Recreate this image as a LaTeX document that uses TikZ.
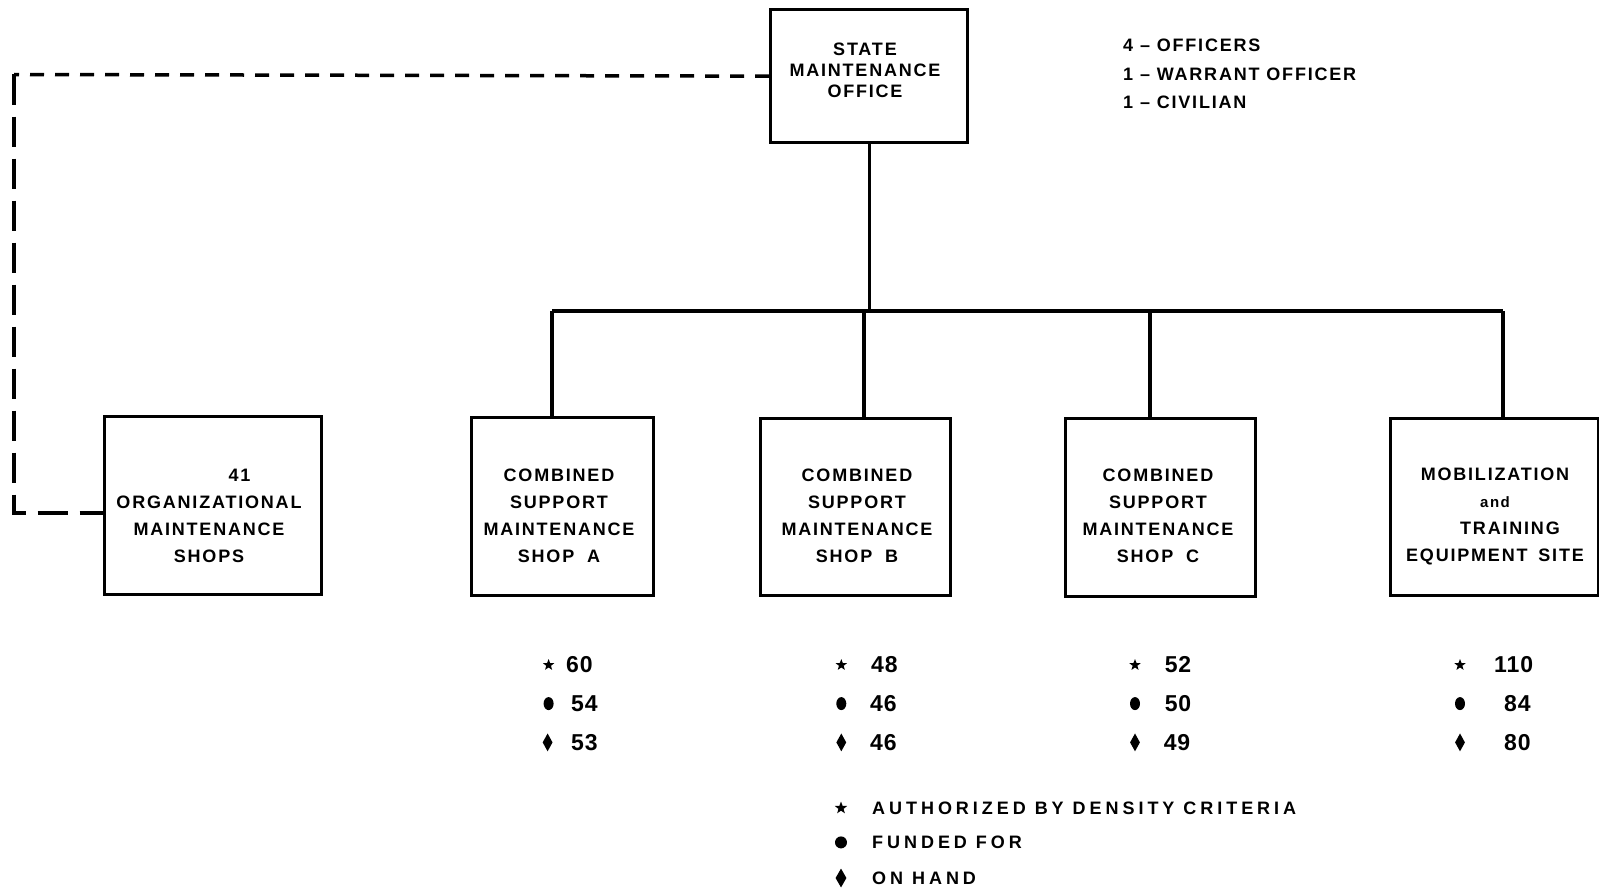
\documentclass[tikz,border=0pt]{standalone}
\usepackage{fontspec}
\usetikzlibrary{shapes.geometric}
\newfontfamily\lblfont[LetterSpace=10]{Liberation Sans}
\newfontfamily\legfont[LetterSpace=22]{Liberation Sans}
\newfontfamily\numfont[LetterSpace=4]{Liberation Sans}
\begin{document}
\begin{tikzpicture}[x=1pt,y=-1pt,
  box/.style={draw, line width=3.3pt, inner sep=0pt, anchor=north west},
  lbl/.style={align=center, inner sep=0pt, font=\lblfont\bfseries\fontsize{18}{27}\selectfont},
  info/.style={align=left, anchor=west, inner sep=0pt, font=\lblfont\bfseries\fontsize{18}{28.5}\selectfont},
  leg/.style={anchor=west, inner sep=0pt, font=\legfont\bfseries\fontsize{18}{22}\selectfont},
  num/.style={anchor=west, inner sep=0pt, font=\numfont\bfseries\fontsize{23}{26}\selectfont},
  conn/.style={line width=3.3pt},
  dashA/.style={line width=3.5pt, dash pattern=on 14pt off 11pt},
  dashB/.style={line width=3.5pt, dash pattern=on 30pt off 12pt},
  sstar/.style={star, star points=5, star point ratio=2.4, fill, inner sep=0pt, minimum size=12pt},
  sdot/.style={ellipse, fill, inner sep=0pt, minimum width=10pt, minimum height=13pt},
  sdia/.style={diamond, fill, inner sep=0pt, minimum width=10pt, minimum height=18pt},
  lstar/.style={sstar, minimum size=13pt},
  ldot/.style={circle, fill, inner sep=0pt, minimum size=12pt},
  ldia/.style={sdia, minimum width=11pt, minimum height=19pt}]
\useasboundingbox[fill=white] (0,0) rectangle (1599,891);

% boxes
\node[box, minimum width=197pt, minimum height=133pt] (S) at (769,8) {};
\node[box, minimum width=217pt, minimum height=178pt] (O) at (103,415) {};
\node[box, minimum width=182pt, minimum height=178pt] (A) at (470,416) {};
\node[box, minimum width=190pt, minimum height=177pt] (B) at (759,417) {};
\node[box, minimum width=190pt, minimum height=178pt] (C) at (1064,417) {};
\node[box, minimum width=208pt, minimum height=177pt] (M) at (1389,417) {};

% box texts
\node[lbl, font=\lblfont\bfseries\fontsize{18}{21}\selectfont] (St) at (865,70) {STATE\\MAINTENANCE\\OFFICE};
\node[lbl] (Ot) at (209,516) {\hspace*{61pt}41\\ORGANIZATIONAL\\MAINTENANCE\\SHOPS};
\node[lbl] (At) at (559,516) {COMBINED\\SUPPORT\\MAINTENANCE\\SHOP\hspace{6pt} A};
\node[lbl] (Bt) at (857,516) {COMBINED\\SUPPORT\\MAINTENANCE\\SHOP\hspace{6pt} B};
\node[lbl] (Ct) at (1158,516) {COMBINED\\SUPPORT\\MAINTENANCE\\SHOP\hspace{6pt} C};
\node[lbl] (Mt) at (1495,516) {MOBILIZATION\\{\fontsize{15}{27}\selectfont and}\\\hspace*{30pt}TRAINING\\EQUIPMENT\hspace{4pt} SITE};

% staff info
\node[info] (I) at (1123,74) {4 – OFFICERS\\1 – WARRANT OFFICER\\1 – CIVILIAN};

% connectors
\coordinate (jA) at (552,311);
\coordinate (jB) at (864,311);
\coordinate (jC) at (1150,311);
\coordinate (jM) at (1503,311);
\draw[conn] (S.south) -- (S.south |- jA);
\draw[conn] (jA) -- (jM);
\draw[conn] (jA) -- (jA |- A.north);
\draw[conn] (jB) -- (jB |- B.north);
\draw[conn] (jC) -- (jC |- C.north);
\draw[conn] (jM) -- (jM |- M.north);

% dashed link
\coordinate (k1) at (14,74.5);
\coordinate (k2) at (14,513);
\draw[dashA] (S.west) -- (k1);
\draw[dashB] (k1) -- (k2) -- (k2 -| O.west);

% figures
\node[sstar] (a1) at (548.6,665) {};  \node[num] (a1n) at (566,665) {60};
\node[sdot]  (a2) at (548.6,703.6) {}; \node[num] (a2n) at (571,703.6) {54};
\node[sdia]  (a3) at (547.6,742.4) {}; \node[num] (a3n) at (571,742.4) {53};

\node[sstar] (b1) at (841.3,665) {};  \node[num] (b1n) at (871,665) {48};
\node[sdot]  (b2) at (841.3,703.6) {}; \node[num] (b2n) at (870,703.6) {46};
\node[sdia]  (b3) at (841.3,742.4) {}; \node[num] (b3n) at (870,742.4) {46};

\node[sstar] (c1) at (1135,665) {};  \node[num] (c1n) at (1164.6,665) {52};
\node[sdot]  (c2) at (1135,703.6) {}; \node[num] (c2n) at (1164.6,703.6) {50};
\node[sdia]  (c3) at (1135,742.4) {}; \node[num] (c3n) at (1163.6,742.4) {49};

\node[sstar] (m1) at (1460,665) {};  \node[num] (m1n) at (1494,665) {110};
\node[sdot]  (m2) at (1460,703.6) {}; \node[num] (m2n) at (1504,703.6) {84};
\node[sdia]  (m3) at (1460,742.4) {}; \node[num] (m3n) at (1504,742.4) {80};

% legend
\node[lstar] (l1) at (841,808) {};   \node[leg] (l1t) at (872,808) {AUTHORIZED BY DENSITY CRITERIA};
\node[ldot]  (l2) at (841,842.4) {}; \node[leg] (l2t) at (872,842.4) {FUNDED FOR};
\node[ldia]  (l3) at (841,878) {};   \node[leg] (l3t) at (872,878) {ON HAND};
\end{tikzpicture}
\end{document}
